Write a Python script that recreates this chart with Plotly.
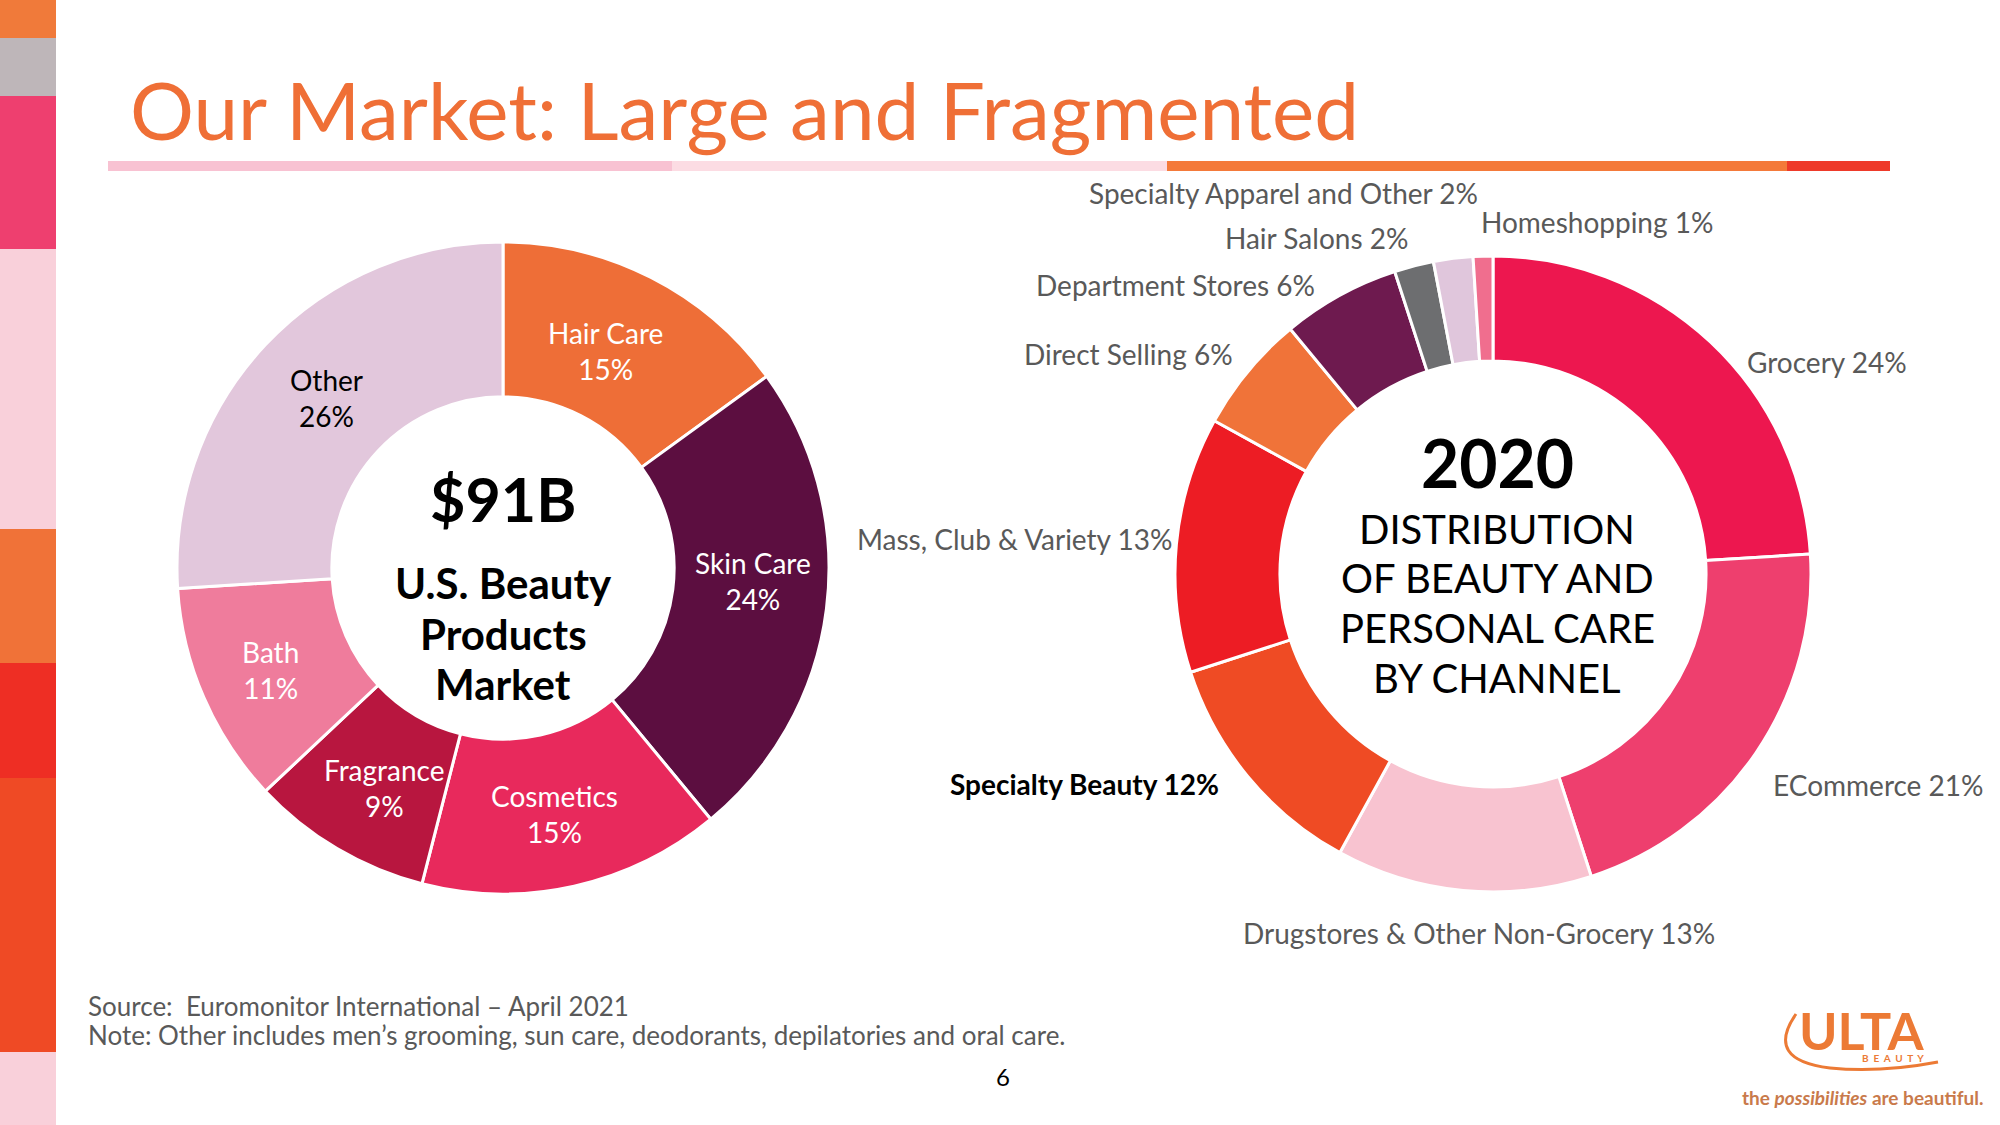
import plotly.graph_objects as go

W, H = 2000, 1125

# ---------------- data ----------------
market_labels = ["Hair Care", "Skin Care", "Cosmetics", "Fragrance", "Bath", "Other"]
market_values = [15, 24, 15, 9, 11, 26]

channel_labels = ["Grocery", "ECommerce", "Drugstores & Other Non-Grocery", "Specialty Beauty",
                  "Mass, Club & Variety", "Direct Selling", "Department Stores", "Hair Salons",
                  "Specialty Apparel and Other", "Homeshopping"]
channel_values = [24, 21, 13, 12, 13, 6, 6, 2, 2, 1]

# ---------------- styles ----------------
market_colors = ["#EE6E37", "#5C0E40", "#E8295C", "#B8163F", "#EF7C9C", "#E2C7DC"]
market_text_colors = ["white", "white", "white", "white", "white", "black"]
# label anchor positions (pixels) for the market labels
market_label_pos = [(605, 351), (753, 581), (554, 814), (384, 788), (270, 670), (326, 398)]

channel_colors = ["#ED174F", "#EE3F6E", "#F8C3D0", "#EF4B24", "#ED1C24", "#F07339",
                  "#6E1A4F", "#6D6E70", "#E0C6DC", "#F06E8E"]
# label anchor positions (pixels) for the channel labels
channel_label_pos = [(1827, 362), (1878, 785), (1479, 933), (1084, 784), (1015, 539),
                     (1128, 354), (1175, 285), (1316, 238), (1283, 193), (1597, 222)]

FONT = "Lato, 'Noto Sans', sans-serif"
GRAY = "#595959"


def px(x):
    return x / W


def py(y):
    return 1 - y / H


fig = go.Figure()

# left donut
lc, lr = (503, 568), 326
fig.add_trace(go.Pie(
    labels=market_labels, values=market_values, sort=False, direction="clockwise",
    hole=0.525, marker=dict(colors=market_colors, line=dict(color="white", width=3)),
    textinfo="none",
    domain=dict(x=[px(lc[0] - lr), px(lc[0] + lr)], y=[py(lc[1] + lr), py(lc[1] - lr)]),
    showlegend=False, hoverinfo="label+percent",
))

# right donut
rc, rr = (1493, 574), 318
fig.add_trace(go.Pie(
    labels=channel_labels, values=channel_values, sort=False, direction="clockwise",
    hole=0.67, marker=dict(colors=channel_colors, line=dict(color="white", width=3)),
    textinfo="none",
    domain=dict(x=[px(rc[0] - rr), px(rc[0] + rr)], y=[py(rc[1] + rr), py(rc[1] - rr)]),
    showlegend=False, hoverinfo="label+percent",
))

annotations = []


def ann(text, x, y, size, color="black", bold=False, xanchor="center", family=FONT):
    annotations.append(dict(
        text=f"<b>{text}</b>" if bold else text, x=px(x), y=py(y), xref="paper", yref="paper",
        xanchor=xanchor, yanchor="middle", showarrow=False,
        font=dict(family=family, size=size, color=color)))


# market (inside) labels
for lab, val, col, (x, y) in zip(market_labels, market_values, market_text_colors, market_label_pos):
    ann(f"{lab}<br>{val}%", x, y, 28, col)

# channel labels
for lab, val, (x, y) in zip(channel_labels, channel_values, channel_label_pos):
    if lab == "Specialty Beauty":
        ann(f"{lab} {val}%", x, y, 28, "black", bold=True)
    else:
        ann(f"{lab} {val}%", x, y, 28, GRAY)

# title
ann("Our Market: Large and Fragmented", 128, 109, 80, "#EF6F36", xanchor="left")

# left centre text
ann("$91B", 503, 498, 61, "black", bold=True)
ann("U.S. Beauty", 503, 583, 42, "black", bold=True)
ann("Products", 503, 634, 42, "black", bold=True)
ann("Market", 503, 684, 42, "black", bold=True)

# right centre text
ann("2020", 1497, 462, 66, "black", bold=True)
for txt, y in zip(["DISTRIBUTION", "OF BEAUTY AND", "PERSONAL CARE", "BY CHANNEL"], [529, 578, 628, 678]):
    ann(txt, 1497, y, 40, "black")

# footer
ann("Source:  Euromonitor International \u2013 April 2021", 86, 1006, 26, GRAY, xanchor="left")
ann("Note: Other includes men\u2019s grooming, sun care, deodorants, depilatories and oral care.",
    86, 1035, 26, GRAY, xanchor="left")
ann("6", 1003, 1076, 24, "black")

# logo
ann("ULTA", 1862, 1030, 52, "#EC7A35", bold=True)
ann("B  E  A  U  T  Y", 1893, 1058, 10, "#EC7A35", bold=True)
ann("the <i>possibilities</i> are beautiful.", 1862, 1097, 19, "#C97A4B", bold=True)

shapes = []


def rect(x0, y0, x1, y1, color):
    shapes.append(dict(type="rect", xref="paper", yref="paper", x0=px(x0), x1=px(x1),
                       y0=py(y1), y1=py(y0), fillcolor=color, line=dict(width=0), layer="below"))


# left stripe
stripe = [(0, 38, "#F07A3A"), (38, 96, "#BEB6B9"), (96, 249, "#EE3F6F"), (249, 529, "#F9D0DA"),
          (529, 663, "#F07238"), (663, 778, "#EE2E24"), (778, 1052, "#EF4A25"), (1052, 1125, "#F9D0DA")]
for y0, y1, c in stripe:
    rect(0, y0, 56, y1, c)

# title underline
under = [(108, 672, "#F8C2D2"), (672, 1167, "#FCDCE3"), (1167, 1787, "#F47A3A"), (1787, 1890, "#EE3A2A")]
for x0, x1, c in under:
    rect(x0, 161, x1, 171, c)

# logo swoosh
sw = (f"M {px(1796)},{py(1014)} Q {px(1764)},{py(1060)} {px(1830)},{py(1068)} "
      f"Q {px(1880)},{py(1073)} {px(1938)},{py(1062)}")
shapes.append(dict(type="path", xref="paper", yref="paper", path=sw,
                   line=dict(color="#EC7A35", width=3)))

fig.update_layout(
    width=W, height=H, margin=dict(l=0, r=0, t=0, b=0),
    paper_bgcolor="white", plot_bgcolor="white",
    annotations=annotations, shapes=shapes,
)

fig.write_html("out.html", config={"displayModeBar": False},
               post_script="document.body.style.margin='0';")
